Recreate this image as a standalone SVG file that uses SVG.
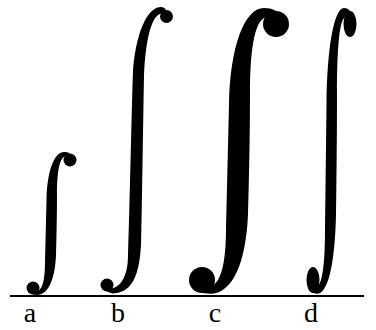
<svg xmlns="http://www.w3.org/2000/svg" xmlns:xlink="http://www.w3.org/1999/xlink" width="376" height="330" viewBox="0 0 376 330">
<style>
.lbl{font-family:"Liberation Serif","Times New Roman",serif;font-size:28px;fill:#000;text-anchor:middle}
.ink{fill:#000}
</style>
<defs>
<g id="intA">
<path d="M13,-144 C3,-144 -4,-124 -4.5,-96 C-5,-75 -5.5,-55 -6,-34 C-6,-18 -8,-8 -12.8,-5 L-18,-1.5 L-14,-1.1 C-3,-1 4,-16 5,-41 C5.5,-60 6,-80 6,-101 C6,-122 8,-137 13.6,-139.4 L19,-142.5 C17,-143.7 15,-144 13,-144 Z"/>
<circle cx="19" cy="-136" r="6.5"/>
<circle cx="-18" cy="-8" r="6.5"/>
</g>
</defs>
<rect width="376" height="330" fill="#fff"/>
<g id="a" class="ink">
<use xlink:href="#intA" transform="translate(51,296)"/>
<text class="lbl" x="30" y="322">a</text>
</g>
<g id="b" class="ink">
<path d="M161,7 C150,7 137,25 133,70 C131,130 130,200 128,255 C128,274 122,286 112.4,288.3 L107,291.5 L112,293.5 C130,293 139,280 141,245 C142,200 143,130 144,75 C146,36 152,16 161,13.6 L166,10 C165,8 163,7 161,7 Z"/>
<circle cx="166.5" cy="16.5" r="6.5"/>
<circle cx="107" cy="285" r="6.5"/>
<text class="lbl" x="118" y="322">b</text>
</g>
<g id="c" class="ink">
<use xlink:href="#intA" transform="translate(238,296) scale(2)"/>
<text class="lbl" x="215" y="322">c</text>
</g>
<g id="d" class="ink">
<use xlink:href="#intA" transform="translate(331,296) scale(1,2)"/>
<text class="lbl" x="311" y="322">d</text>
</g>
<g id="connectors">
<line x1="10" y1="296" x2="364" y2="296" stroke="#000" stroke-width="2"/>
</g>
</svg>
